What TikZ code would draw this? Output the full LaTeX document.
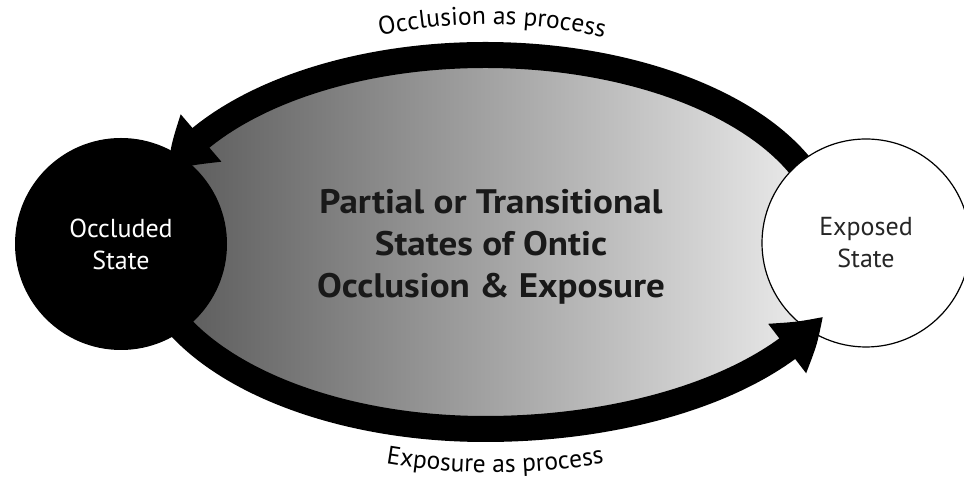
\documentclass[tikz,border=0pt]{standalone}
\usepackage{fontspec}
\setmainfont{PT Sans}
\newfontfamily\corefont{PT Sans}[FakeStretch=1.09]
\usetikzlibrary{arrows.meta,bending,decorations.text}
\begin{document}
\begin{tikzpicture}[x=1pt,y=1pt,
  band/.style={line width=26pt, draw=black},
  headtip/.style={-{Triangle[length=46pt,width=60pt,bend]}},
  statelbl/.style={font=\fontsize{26}{32}\selectfont, align=center, inner sep=0pt},
  corelbl/.style={font=\corefont\fontsize{34}{42}\selectfont\bfseries, align=center, inner sep=0pt},
]
\useasboundingbox (0,0) rectangle (964,478);
\coordinate (hub) at (485,236);

% shaded interior of the cycle
\path[left color=black!67, right color=black!4]
  (hub) ++(0:345pt and 187pt)
  arc[start angle=0,end angle=90,x radius=345pt,y radius=187pt]
  arc[start angle=90,end angle=180,x radius=342pt,y radius=187pt]
  arc[start angle=180,end angle=270,x radius=342pt,y radius=187pt]
  arc[start angle=270,end angle=360,x radius=368pt,y radius=187pt]
  -- cycle;

% upper process: exposed -> occluded
\draw[band, headtip] (hub) ++(10:345pt and 187pt)
  arc[start angle=10,end angle=90,x radius=345pt,y radius=187pt]
  arc[start angle=90,end angle=158,x radius=342pt,y radius=187pt];

% the two states
\node[circle, fill=black, minimum size=212pt, inner sep=0pt] (occ) at (121,234) {};
\node[circle, draw=black, line width=1.2pt, fill=white, minimum size=208pt, inner sep=0pt] (exp) at (866,235) {};

% lower process: occluded -> exposed
\draw[band, headtip] (hub) ++(200:342pt and 187pt)
  arc[start angle=200,end angle=270,x radius=342pt,y radius=187pt]
  arc[start angle=270,end angle=336.5,x radius=368pt,y radius=187pt];

% labels
\node[statelbl, text=white] (occtxt) at (occ.center) {Occluded\\State};
\node[statelbl, text=black!85] (exptxt) at (exp.center) {Exposed\\State};
\node[corelbl, text=black!90] (core) at (491,231)
  {Partial or Transitional\\States of Ontic\\Occlusion \& Exposure};

\path[decorate, decoration={text along path, text align=center,
  text={|\fontsize{25.5}{30}\selectfont|Occlusion as process}}]
  (372,441) .. controls (450,458) and (530,458) .. (612,439);
\path[decorate, decoration={text along path, text align=center,
  text={|\fontsize{25.5}{30}\selectfont|Exposure as process}}]
  (378,16) .. controls (455,2) and (530,2) .. (612,16);
\end{tikzpicture}
\end{document}
